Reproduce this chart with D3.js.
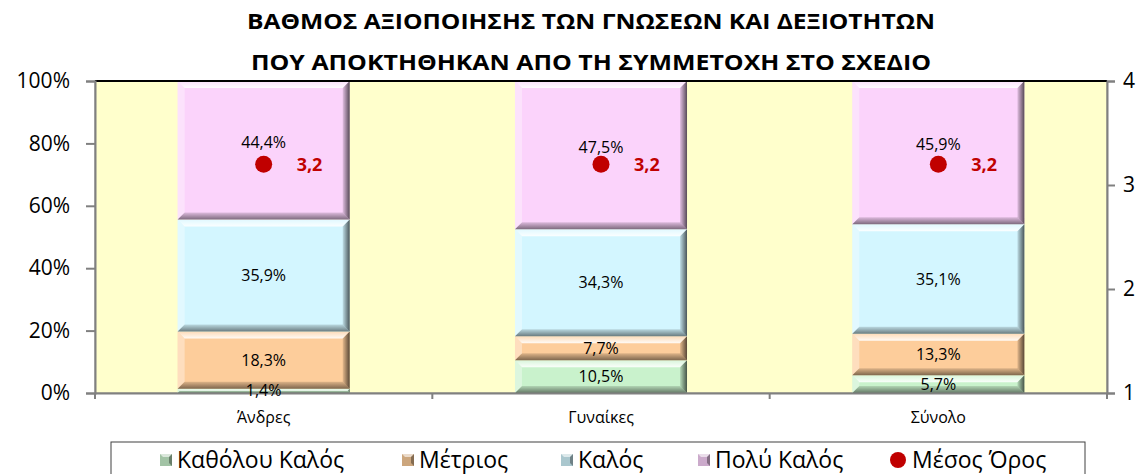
<!DOCTYPE html>
<html>
<head>
<meta charset="utf-8">
<script src="https://cdn.jsdelivr.net/npm/d3@7"></script>
<style>
  body { margin: 0; background: #fff; }
  text { font-family: "Open Sans", "Noto Sans", sans-serif; fill: #000; }
</style>
</head>
<body>
<svg id="chart" width="1148" height="474"></svg>
<script>
// data
const categories = ["Άνδρες", "Γυναίκες", "Σύνολο"]
const seriesNames = ["Καθόλου Καλός", "Μέτριος", "Καλός", "Πολύ Καλός"]
const katholou = [1.4, 10.5, 5.7]
const metrios = [18.3, 7.7, 13.3]
const kalos = [35.9, 34.3, 35.1]
const polyKalos = [44.4, 47.5, 45.9]
const mesosOros = [3.2, 3.2, 3.2]
const meanName = "Μέσος Όρος"
const leftTicks = [0, 0.2, 0.4, 0.6, 0.8, 1]
const rightTicks = [1, 2, 3, 4]
const titleLines = ["ΒΑΘΜΟΣ ΑΞΙΟΠΟΙΗΣΗΣ ΤΩΝ ΓΝΩΣΕΩΝ ΚΑΙ ΔΕΞΙΟΤΗΤΩΝ",
                    "ΠΟΥ ΑΠΟΚΤΗΘΗΚΑΝ ΑΠΟ ΤΗ ΣΥΜΜΕΤΟΧΗ ΣΤΟ ΣΧΕΔΙΟ"]
const colors = ["#c9f2cc", "#fdcd9b", "#d3f6ff", "#fbd3fb"]

const svg = d3.select("#chart")
const width = 1148, height = 474

// define margins
const margin = {top: 81, right: 41, bottom: 81, left: 95}

// scales
const x = d3.scaleBand()
  .domain(categories)
  .range([margin.left, width - margin.right])
  .paddingInner(0.49)
  .paddingOuter(0.245)

const y = d3.scaleLinear()
  .domain([0, 1])
  .range([height - margin.bottom, margin.top])

const y2 = d3.scaleLinear()
  .domain([1, 4])
  .range([height - margin.bottom, margin.top])

// plot background
svg.append("rect")
  .attr("x", margin.left)
  .attr("y", margin.top)
  .attr("width", width - margin.right - margin.left)
  .attr("height", height - margin.bottom - margin.top)
  .attr("fill", "#ffffcc")
  .attr("stroke", "#808080")
  .attr("stroke-width", 1)

// gradients for the bevel shading
const defs = svg.append("defs")
const gr = defs.append("linearGradient").attr("id", "rightShade")
  .attr("x1", 0).attr("x2", 1).attr("y1", 0).attr("y2", 0)
gr.append("stop").attr("offset", "0%").attr("stop-color", "#000").attr("stop-opacity", 0.1)
gr.append("stop").attr("offset", "100%").attr("stop-color", "#000").attr("stop-opacity", 0.65)
const gb = defs.append("linearGradient").attr("id", "bottomShade")
  .attr("x1", 0).attr("x2", 0).attr("y1", 0).attr("y2", 1)
gb.append("stop").attr("offset", "0%").attr("stop-color", "#000").attr("stop-opacity", 0.12)
gb.append("stop").attr("offset", "100%").attr("stop-color", "#000").attr("stop-opacity", 0.5)
const gt = defs.append("linearGradient").attr("id", "topShade")
  .attr("x1", 0).attr("x2", 0).attr("y1", 0).attr("y2", 1)
gt.append("stop").attr("offset", "0%").attr("stop-color", "#fff").attr("stop-opacity", 0.3)
gt.append("stop").attr("offset", "100%").attr("stop-color", "#fff").attr("stop-opacity", 0.9)

// stack the series
const rows = categories.map((c, i) => ({
  cat: c, s0: katholou[i], s1: metrios[i], s2: kalos[i], s3: polyKalos[i]
}))
const stack = d3.stack().keys(["s0", "s1", "s2", "s3"])(rows)

const segs = []
stack.forEach((layer, li) => {
  layer.forEach(d => {
    segs.push({ li: li, cat: d.data.cat, y0: d[0] / 100, y1: d[1] / 100, v: d[1] - d[0] })
  })
})

const bars = svg.append("g")
const seg = bars.selectAll("g.seg")
  .data(segs)
  .enter()
  .append("g")
    .attr("class", "seg")

function poly(pts) { return "M" + pts.map(p => p.join(",")).join("L") + "Z" }

seg.each(function(d) {
  const g = d3.select(this)
  const x0 = x(d.cat), x1 = x(d.cat) + x.bandwidth()
  const yt = y(d.y1), yb = y(d.y0)
  const b = Math.min(7, (yb - yt) / 2)
  g.append("rect")
    .attr("x", x0).attr("y", yt)
    .attr("width", x1 - x0).attr("height", yb - yt)
    .attr("fill", colors[d.li])
  g.append("path").attr("d", poly([[x0, yt], [x1, yt], [x1 - b, yt + b], [x0 + b, yt + b]]))
    .attr("fill", "url(#topShade)")
  g.append("path").attr("d", poly([[x0, yt], [x0 + b, yt + b], [x0 + b, yb - b], [x0, yb]]))
    .attr("fill", "#fff").attr("opacity", 0.35)
  g.append("path").attr("d", poly([[x0, yb], [x1, yb], [x1 - b, yb - b], [x0 + b, yb - b]]))
    .attr("fill", "url(#bottomShade)")
  g.append("path").attr("d", poly([[x1, yt], [x1 - b, yt + b], [x1 - b, yb - b], [x1, yb]]))
    .attr("fill", "url(#rightShade)")
})

// top border line
svg.append("line")
  .attr("x1", margin.left).attr("x2", width - margin.right)
  .attr("y1", y(1)).attr("y2", y(1))
  .attr("stroke", "#000").attr("stroke-width", 2)

// axes
const leftAxis = svg.append("g")
  .attr("transform", "translate(" + margin.left + ",0)")
  .call(d3.axisLeft(y).tickValues(leftTicks).tickFormat(d => Math.round(d * 100) + "%")
    .tickSize(9).tickPadding(16))
leftAxis.selectAll("text").attr("font-size", 21)

const rightAxis = svg.append("g")
  .attr("transform", "translate(" + (width - margin.right) + ",0)")
  .call(d3.axisRight(y2).tickValues(rightTicks).tickFormat(d3.format("d"))
    .tickSize(8).tickPadding(8))
rightAxis.selectAll("text").attr("font-size", 21)

const bottomAxis = svg.append("g")
  .attr("transform", "translate(0," + (height - margin.bottom) + ")")
  .call(d3.axisBottom(x).tickSize(0).tickPadding(19))
bottomAxis.selectAll("text").attr("font-size", 16)
bottomAxis.selectAll(".tick").append("line")
  .attr("x1", x.step() / 2).attr("x2", x.step() / 2)
  .attr("y1", 0).attr("y2", 6)
  .attr("stroke", "#808080")
bottomAxis.append("line")
  .attr("x1", margin.left).attr("x2", margin.left)
  .attr("y1", 0).attr("y2", 6)
  .attr("stroke", "#808080")

;[leftAxis, rightAxis, bottomAxis].forEach(a => {
  a.selectAll("path, line").attr("stroke", "#808080").attr("stroke-width", 2)
  a.selectAll("text").style("font-family", "'Open Sans', sans-serif").attr("fill", "#000")
})

// segment labels (drawn over the axis line, like the original)
svg.append("g").selectAll("text")
  .data(segs)
  .enter()
  .append("text")
    .attr("x", d => x(d.cat) + x.bandwidth() / 2)
    .attr("y", d => (y(d.y0) + y(d.y1)) / 2 - (d.li === 3 ? 8 : 0))
    .attr("dy", "0.35em")
    .attr("text-anchor", "middle")
    .attr("font-size", 16)
    .text(d => d3.format(".1f")(d.v).replace(".", ",") + "%")

// mean points
const means = categories.map((c, i) => ({ cat: c, v: mesosOros[i] }))
svg.selectAll(".mean")
  .data(means)
  .enter()
  .append("circle")
    .attr("cx", d => x(d.cat) + x.bandwidth() / 2)
    .attr("cy", d => y2(d.v))
    .attr("r", 8.5)
    .attr("fill", "#c00000")

svg.selectAll(".meanLabel")
  .data(means)
  .enter()
  .append("text")
    .attr("x", d => x(d.cat) + x.bandwidth() / 2 + 33)
    .attr("y", d => y2(d.v))
    .attr("dy", "0.35em")
    .attr("font-size", 18)
    .attr("font-weight", "bold")
    .style("fill", "#c00000")
    .text(d => d3.format(".1f")(d.v).replace(".", ","))

// title
svg.append("g").selectAll("text")
  .data(titleLines)
  .enter()
  .append("text")
    .attr("x", 591)
    .attr("y", (d, i) => 29 + i * 41)
    .attr("text-anchor", "middle")
    .attr("font-size", 22)
    .attr("font-weight", "bold")
    .attr("textLength", (d, i) => i === 0 ? 688 : 680)
    .attr("lengthAdjust", "spacingAndGlyphs")
    .text(d => d)

// legend
svg.append("rect")
  .attr("x", 111).attr("y", 442)
  .attr("width", 974).attr("height", 60)
  .attr("fill", "#fff").attr("stroke", "#404040").attr("stroke-width", 1)

const legendItems = seriesNames.map((n, i) => ({ name: n, color: colors[i], type: "bar" }))
legendItems.push({ name: meanName, color: "#c00000", type: "dot" })
const legendX = [160, 402, 561, 698, 890]

const leg = svg.append("g").selectAll("g")
  .data(legendItems)
  .enter()
  .append("g")
    .attr("transform", (d, i) => "translate(" + legendX[i] + ",460)")

leg.filter(d => d.type === "bar").each(function(d) {
  const g = d3.select(this)
  g.append("rect").attr("x", 0).attr("y", -6).attr("width", 12).attr("height", 12)
    .attr("fill", d3.color(d.color).darker(0.6))
  g.append("path").attr("d", poly([[0, -6], [12, -6], [9, -3], [3, -3]])).attr("fill", "#fff").attr("opacity", 0.6)
  g.append("path").attr("d", poly([[12, -6], [12, 6], [9, 3], [9, -3]])).attr("fill", "#000").attr("opacity", 0.35)
})
leg.filter(d => d.type === "dot").append("circle")
  .attr("cx", 8).attr("cy", 0).attr("r", 8).attr("fill", d => d.color)

leg.append("text")
  .attr("x", d => d.type === "dot" ? 22 : 17)
  .attr("y", 0)
  .attr("dy", "0.35em")
  .attr("font-size", 23)
  .text(d => d.name)
</script>
</body>
</html>
